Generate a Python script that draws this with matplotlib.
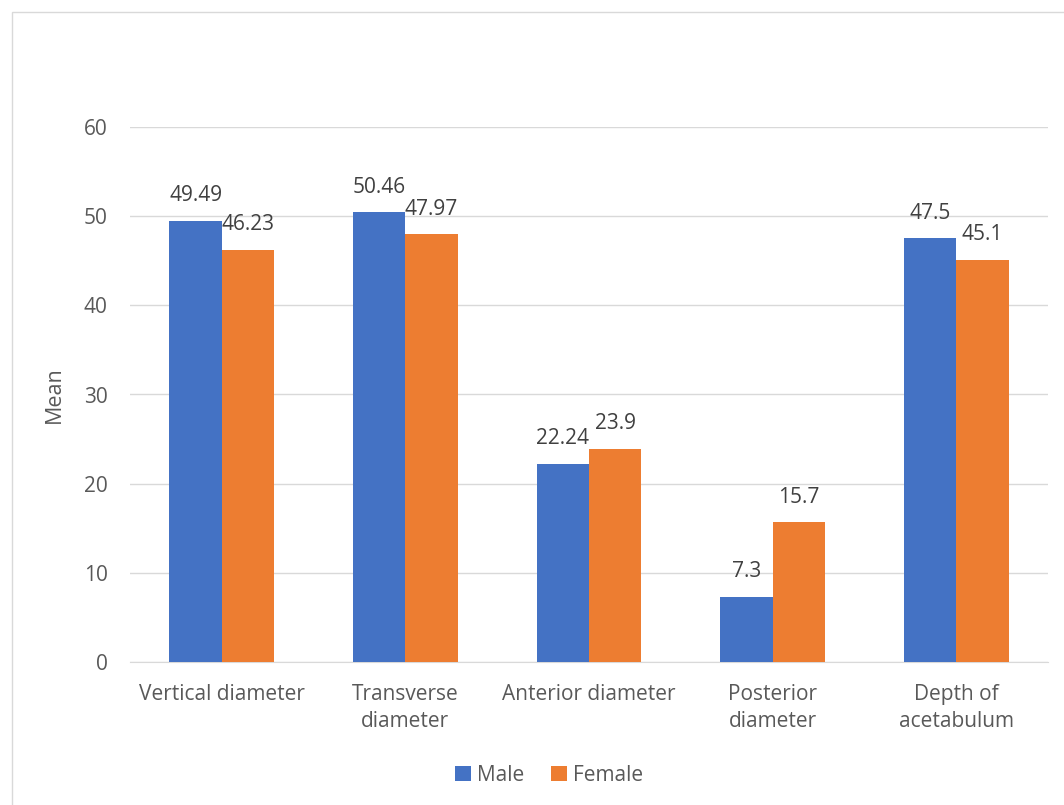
import matplotlib.pyplot as plt
import numpy as np
from matplotlib.patches import Rectangle

categories = ['Vertical diameter', 'Transverse\ndiameter', 'Anterior diameter',
              'Posterior\ndiameter', 'Depth of\nacetabulum']
male = [49.49, 50.46, 22.24, 7.3, 47.5]
female = [46.23, 47.97, 23.9, 15.7, 45.1]
male_labels = ['49.49', '50.46', '22.24', '7.3', '47.5']
female_labels = ['46.23', '47.97', '23.9', '15.7', '45.1']

plt.rcParams['font.family'] = ['Open Sans', 'DejaVu Sans']
txt = '#595959'
fs = 15

fig = plt.figure(figsize=(10.64, 8.05), dpi=100)
fig.patches.append(Rectangle((12 / 1064, -0.2), 1.2, 1.2 - 12 / 805,
                             transform=fig.transFigure, fill=False,
                             edgecolor='#d9d9d9', linewidth=1))
ax = fig.add_axes([130 / 1064, 1 - 662 / 805, 918 / 1064, 535 / 805])

x = np.arange(len(categories))
w = 0.285
b1 = ax.bar(x - w / 2, male, w, color='#4472C4', label='Male', zorder=3)
b2 = ax.bar(x + w / 2, female, w, color='#ED7D31', label='Female', zorder=3)

for bars, labs in ((b1, male_labels), (b2, female_labels)):
    for r, s in zip(bars, labs):
        ax.annotate(s, (r.get_x() + r.get_width() / 2, r.get_height()),
                    xytext=(0, 14), textcoords='offset points',
                    ha='center', va='baseline', fontsize=fs, color='#404040')

ax.set_xlim(-0.5, 4.5)
ax.set_ylim(0, 60)
ax.set_yticks(range(0, 61, 10))
ax.set_xticks(x)
ax.set_xticklabels(categories, fontsize=fs, color=txt, linespacing=1.35)
ax.tick_params(axis='y', labelsize=fs, labelcolor=txt, length=0, pad=16)
ax.tick_params(axis='x', length=0, pad=16)
ax.grid(axis='y', color='#d9d9d9', linewidth=1, zorder=0)
for s in ('top', 'right', 'left'):
    ax.spines[s].set_visible(False)
ax.spines['bottom'].set_color('#d9d9d9')
ax.set_ylabel('Mean', fontsize=15.5, color=txt, labelpad=14)

fig.legend(handles=[b1, b2], loc='center', bbox_to_anchor=(549 / 1064, 1 - 775 / 805),
           ncol=2, frameon=False, fontsize=fs, labelcolor=txt,
           handlelength=0.75, handleheight=0.75, handletextpad=0.3, columnspacing=1.3)

fig.savefig('out.png', dpi=100)
